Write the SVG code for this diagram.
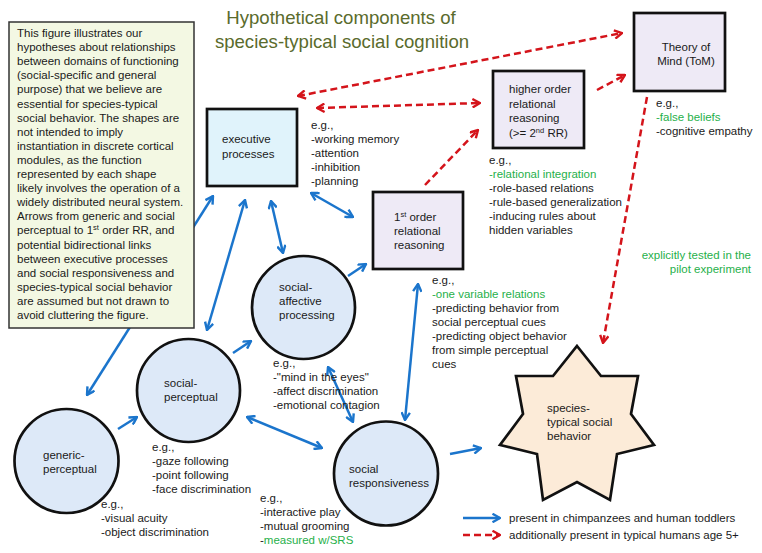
<svg xmlns="http://www.w3.org/2000/svg" width="762" height="553" viewBox="0 0 762 553">
<defs>
<style>
text{font-family:"Liberation Sans",Arial,sans-serif;font-size:11.5px;fill:#1a1a1a}
.title{font-size:18.6px;fill:#5a6b2c}
.g{fill:#1fb04a}
.box{stroke:#111;stroke-width:2.7}
.blue{stroke:#1b75cc;stroke-width:2.5;fill:none}
.red{stroke:#d4141b;stroke-width:2.5;fill:none;stroke-dasharray:7 4}
.ba{marker-end:url(#mb)}
.bb{marker-end:url(#mb);marker-start:url(#mb)}
.ra{marker-end:url(#mr)}
.rb{marker-end:url(#mr);marker-start:url(#mr)}
</style>
<marker id="mb" viewBox="0 0 10 10" markerWidth="10" markerHeight="10" refX="9" refY="5" orient="auto-start-reverse" markerUnits="userSpaceOnUse">
<path d="M1.5,0.8 L9,5 L1.5,9.2" fill="none" stroke="#1b75cc" stroke-width="2.4"/>
</marker>
<marker id="mr" viewBox="0 0 10 10" markerWidth="10" markerHeight="10" refX="9" refY="5" orient="auto-start-reverse" markerUnits="userSpaceOnUse">
<path d="M1.5,0.8 L9,5 L1.5,9.2" fill="none" stroke="#d4141b" stroke-width="2.4"/>
</marker>
</defs>
<rect width="762" height="553" fill="#fff"/>

<g id="title">
<text class="title" x="341" y="24" text-anchor="middle">Hypothetical components of</text>
<text class="title" x="342" y="48" text-anchor="middle">species-typical social cognition</text>
</g>

<g id="connectors">
<path class="blue bb" d="M87,395 L213,196"/>
<path class="blue bb" d="M207,330 L245,200"/>
<path class="blue bb" d="M283,253 L271,201"/>
<path class="blue bb" d="M311,193 L353,217"/>
<path class="blue ba" d="M348,276 L366,264"/>
<path class="blue ba" d="M233,353 L251,341"/>
<path class="blue ba" d="M118,429 L137,417"/>
<path class="blue bb" d="M247,417 L322,448"/>
<path class="blue bb" d="M328,367 L353,422"/>
<path class="blue bb" d="M418,284 L405,420"/>
<path class="blue ba" d="M450,454 L481,448"/>
<path class="red rb" d="M298,96 L622,33"/>
<path class="red rb" d="M317,108 L480,103"/>
<path class="red ra" d="M425,185 L478,130"/>
<path class="red ra" d="M597,90 L625,75"/>
<path class="red ra" d="M647,97 L603,343"/>
</g>

<g id="note">
<rect x="9" y="22" width="185" height="306" fill="#f3f8e3" stroke="#333" stroke-width="1.5"/>
<text x="17" y="37">This figure illustrates our</text>
<text x="17" y="51.1">hypotheses about relationships</text>
<text x="17" y="65.2">between domains of functioning</text>
<text x="17" y="79.3">(social-specific and general</text>
<text x="17" y="93.4">purpose) that we believe are</text>
<text x="17" y="107.5">essential for species-typical</text>
<text x="17" y="121.6">social behavior. The shapes are</text>
<text x="17" y="135.7">not intended to imply</text>
<text x="17" y="149.8">instantiation in discrete cortical</text>
<text x="17" y="163.9">modules, as the function</text>
<text x="17" y="178">represented by each shape</text>
<text x="17" y="192.1">likely involves the operation of a</text>
<text x="17" y="206.2">widely distributed neural system.</text>
<text x="17" y="220.3">Arrows from generic and social</text>
<text x="17" y="234.4">perceptual to 1<tspan font-size="7.5" dy="-4">st</tspan><tspan dy="4"> order RR, and</tspan></text>
<text x="17" y="248.5">potential bidirectional links</text>
<text x="17" y="262.6">between executive processes</text>
<text x="17" y="276.7">and social responsiveness and</text>
<text x="17" y="290.8">species-typical social behavior</text>
<text x="17" y="304.9">are assumed but not drawn to</text>
<text x="17" y="319">avoid cluttering the figure.</text>
</g>

<g id="executive">
<rect class="box" x="207" y="109" width="90" height="77" fill="#e0f3fb"/>
<text x="222" y="143">executive</text>
<text x="222" y="158">processes</text>
<text x="311" y="129">e.g.,</text>
<text x="311" y="143">-working memory</text>
<text x="311" y="157">-attention</text>
<text x="311" y="171">-inhibition</text>
<text x="311" y="185">-planning</text>
</g>

<g id="higher-order">
<rect class="box" x="493" y="71" width="91" height="77" fill="#eeeaf6"/>
<text x="509" y="93">higher order</text>
<text x="509" y="108">relational</text>
<text x="509" y="122">reasoning</text>
<text x="509" y="137">(&gt;= 2<tspan font-size="7.5" dy="-4">nd</tspan><tspan dy="4"> RR)</tspan></text>
<text x="489" y="164">e.g.,</text>
<text x="489" y="178" class="g">-relational integration</text>
<text x="489" y="192">-role-based relations</text>
<text x="489" y="206">-rule-based generalization</text>
<text x="489" y="220">-inducing rules about</text>
<text x="489" y="234">hidden variables</text>
</g>

<g id="tom">
<rect class="box" x="634" y="13" width="91" height="78" fill="#eeeaf6"/>
<text x="686" y="51" text-anchor="middle">Theory of</text>
<text x="686" y="65" text-anchor="middle">Mind (ToM)</text>
<text x="656" y="107">e.g.,</text>
<text x="656" y="121" class="g">-false beliefs</text>
<text x="656" y="135">-cognitive empathy</text>
</g>

<g id="tested-note">
<text x="751" y="259" text-anchor="end" class="g">explicitly tested in the</text>
<text x="751" y="273" text-anchor="end" class="g">pilot experiment</text>
</g>

<g id="first-order">
<rect class="box" x="373" y="192" width="90" height="77" fill="#eeeaf6"/>
<text x="394" y="221">1<tspan font-size="7.5" dy="-4">st</tspan><tspan dy="4"> order</tspan></text>
<text x="394" y="235">relational</text>
<text x="394" y="249">reasoning</text>
<text x="432" y="284">e.g.,</text>
<text x="432" y="298" class="g">-one variable relations</text>
<text x="432" y="312">-predicting behavior from</text>
<text x="432" y="326">social perceptual cues</text>
<text x="432" y="340">-predicting object behavior</text>
<text x="432" y="354">from simple perceptual</text>
<text x="432" y="368">cues</text>
</g>

<g id="social-affective">
<circle class="box" cx="303.5" cy="307.5" r="51.5" fill="#dde9f8"/>
<text x="279" y="291">social-</text>
<text x="279" y="305">affective</text>
<text x="279" y="319">processing</text>
<text x="273" y="367">e.g.,</text>
<text x="273" y="381">-"mind in the eyes"</text>
<text x="273" y="395">-affect discrimination</text>
<text x="273" y="409">-emotional contagion</text>
</g>

<g id="social-perceptual">
<circle class="box" cx="188.5" cy="390.5" r="51.5" fill="#dde9f8"/>
<text x="164" y="387">social-</text>
<text x="164" y="401">perceptual</text>
<text x="152" y="451">e.g.,</text>
<text x="152" y="465">-gaze following</text>
<text x="152" y="479">-point following</text>
<text x="152" y="493">-face discrimination</text>
</g>

<g id="generic-perceptual">
<circle class="box" cx="66.5" cy="461" r="52" fill="#dde9f8"/>
<text x="43" y="459">generic-</text>
<text x="43" y="473">perceptual</text>
<text x="101" y="508">e.g.,</text>
<text x="101" y="522">-visual acuity</text>
<text x="101" y="536">-object discrimination</text>
</g>

<g id="social-responsiveness">
<circle class="box" cx="386" cy="473.5" r="52" fill="#dde9f8"/>
<text x="349" y="473">social</text>
<text x="349" y="487">responsiveness</text>
<text x="260" y="502">e.g.,</text>
<text x="260" y="516">-interactive play</text>
<text x="260" y="530">-mutual grooming</text>
<text x="260" y="544">-<tspan class="g">measured w/SRS</tspan></text>
</g>

<g id="species-typical">
<polygon class="box" fill="#fcebd8" points="577,346 601,376 638,376 631,414 654,445 617,454 610,500 577,482 543,500 537,454 500,445 523,414 516,376 553,376"/>
<text x="547" y="412">species-</text>
<text x="547" y="426">typical social</text>
<text x="547" y="440">behavior</text>
</g>

<g id="legend">
<path class="blue ba" d="M463,518 L500,518"/>
<text x="509" y="522">present in chimpanzees and human toddlers</text>
<path class="red ra" d="M463,535 L500,535"/>
<text x="509" y="539">additionally present in typical humans age 5+</text>
</g>
</svg>
